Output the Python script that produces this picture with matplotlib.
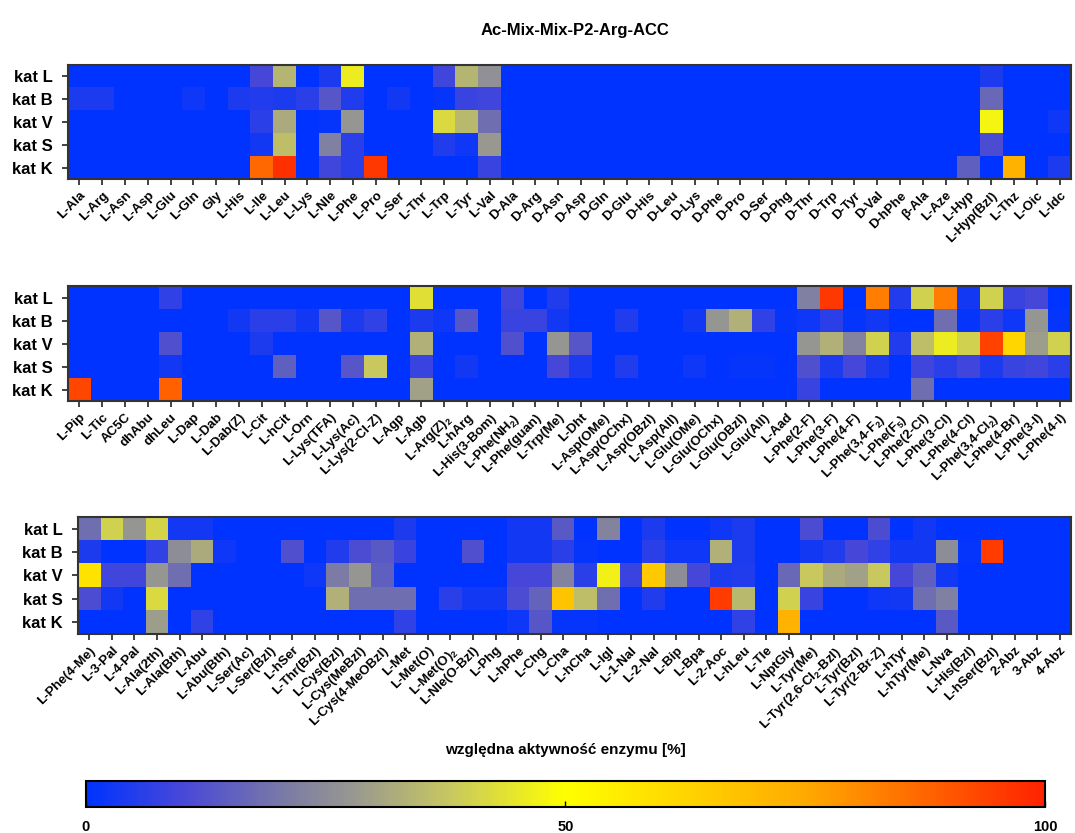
import matplotlib
matplotlib.use("Agg")
import matplotlib.pyplot as plt
from matplotlib.colors import LinearSegmentedColormap
import numpy as np

plt.rcParams['font.family'] = ['Liberation Sans', 'DejaVu Sans']
plt.rcParams['font.weight'] = 'bold'
plt.rcParams['mathtext.fontset'] = 'custom'
plt.rcParams['mathtext.rm'] = 'Liberation Sans:bold'
plt.rcParams['mathtext.it'] = 'Liberation Sans:bold'
plt.rcParams['mathtext.bf'] = 'Liberation Sans:bold'
plt.rcParams['mathtext.default'] = 'rm'

rows = ["kat L", "kat B", "kat V", "kat S", "kat K"]

# panel 1
labels1 = ["L-Ala", "L-Arg", "L-Asn", "L-Asp", "L-Glu", "L-Gln", "Gly", "L-His", "L-Ile", "L-Leu",
           "L-Lys", "L-Nle", "L-Phe", "L-Pro", "L-Ser", "L-Thr", "L-Trp", "L-Tyr", "L-Val", "D-Ala",
           "D-Arg", "D-Asn", "D-Asp", "D-Gln", "D-Glu", "D-His", "D-Leu", "D-Lys", "D-Phe", "D-Pro",
           "D-Ser", "D-Phg", "D-Thr", "D-Trp", "D-Tyr", "D-Val", "D-hPhe", "β-Ala", "L-Aze", "L-Hyp",
           "L-Hyp(Bzl)", "L-Thz", "L-Oic", "L-Idc"]
p1_katL = [0, 0, 0, 0, 0, 0, 0, 0, 10, 34, 0, 4, 46, 0, 0, 0, 9, 34, 26, 0,
           0, 0, 0, 0, 0, 0, 0, 0, 0, 0, 0, 0, 0, 0, 0, 0, 0, 0, 0, 0, 4, 0, 0, 0]
p1_katB = [4, 4, 0, 0, 0, 2, 0, 4, 5, 4, 6, 13, 5, 0, 3, 0, 1, 8, 9, 0,
           0, 0, 0, 0, 0, 0, 0, 0, 0, 0, 0, 0, 0, 0, 0, 0, 0, 0, 0, 0, 17, 0, 0, 0]
p1_katV = [0, 0, 0, 0, 0, 0, 0, 0, 6, 32, 0, 1, 27, 0, 0, 0, 42, 35, 18, 0,
           0, 0, 0, 0, 0, 0, 0, 0, 0, 0, 0, 0, 0, 0, 0, 0, 0, 0, 0, 0, 48, 0, 0, 2]
p1_katS = [0, 0, 0, 0, 0, 0, 0, 0, 3, 36, 0, 22, 6, 0, 0, 0, 5, 2, 28, 0,
           0, 0, 0, 0, 0, 0, 0, 0, 0, 0, 0, 0, 0, 0, 0, 0, 0, 0, 0, 0, 11, 0, 0, 0]
p1_katK = [0, 0, 0, 0, 0, 0, 0, 0, 87, 97, 0, 9, 6, 96, 0, 0, 0, 0, 8, 0,
           0, 0, 0, 0, 0, 0, 0, 0, 0, 0, 0, 0, 0, 0, 0, 0, 0, 0, 0, 15, 0, 72, 0, 4]

# panel 2
labels2 = ["L-Pip", "L-Tic", "AC5C", "dhAbu", "dhLeu", "L-Dap", "L-Dab", "L-Dab(Z)", "L-Cit", "L-hCit",
           "L-Orn", "L-Lys(TFA)", "L-Lys(Ac)", "L-Lys(2-Cl-Z)", "L-Agp", "L-Agb", "L-Arg(Z)$_2$", "L-hArg",
           "L-His(3-Bom)", "L-Phe(NH$_2$)", "L-Phe(guan)", "L-Trp(Me)", "L-Dht", "L-Asp(OMe)",
           "L-Asp(OChx)", "L-Asp(OBzl)", "L-Asp(All)", "L-Glu(OMe)", "L-Glu(OChx)", "L-Glu(OBzl)",
           "L-Glu(All)", "L-Aad", "L-Phe(2-F)", "L-Phe(3-F)", "L-Phe(4-F)", "L-Phe(3,4-F$_2$)",
           "L-Phe(F$_5$)", "L-Phe(2-Cl)", "L-Phe(3-Cl)", "L-Phe(4-Cl)", "L-Phe(3,4-Cl$_2$)",
           "L-Phe(4-Br)", "L-Phe(3-I)", "L-Phe(4-I)"]
p2_katL = [0, 0, 0, 0, 7, 0, 0, 0, 0, 0, 0, 0, 0, 0, 0, 43, 0, 0, 0, 9,
           0, 5, 0, 0, 0, 0, 0, 0, 0, 0, 0, 0, 22, 96, 0, 83, 5, 40, 83, 3, 40, 8, 10, 0]
p2_katB = [0, 0, 0, 0, 0, 0, 0, 3, 6, 6, 3, 13, 4, 7, 0, 4, 2, 13, 0, 8,
           8, 3, 0, 0, 5, 0, 0, 3, 27, 33, 7, 1, 2, 6, 1, 3, 0, 0, 18, 1, 6, 2, 27, 1]
p2_katV = [0, 0, 0, 0, 12, 0, 0, 0, 4, 0, 0, 0, 0, 0, 0, 33, 0, 0, 0, 12,
           0, 27, 13, 0, 0, 0, 0, 0, 0, 0, 0, 0, 27, 33, 23, 40, 5, 36, 46, 40, 94, 62, 29, 40]
p2_katS = [0, 0, 0, 0, 3, 0, 0, 0, 0, 15, 0, 0, 13, 38, 0, 8, 0, 3, 0, 0,
           0, 10, 4, 0, 5, 0, 0, 2, 0, 1, 1, 0, 12, 4, 10, 4, 0, 9, 6, 9, 4, 8, 9, 6]
p2_katK = [93, 0, 0, 0, 88, 0, 0, 0, 0, 0, 0, 0, 0, 0, 0, 30, 0, 0, 0, 0,
           0, 0, 0, 0, 0, 0, 0, 0, 0, 0, 0, 0, 8, 0, 0, 0, 0, 18, 0, 0, 0, 0, 0, 0]

# panel 3
labels3 = ["L-Phe(4-Me)", "L-3-Pal", "L-4-Pal", "L-Ala(2th)", "L-Ala(Bth)", "L-Abu", "L-Abu(Bth)",
           "L-Ser(Ac)", "L-Ser(Bzl)", "L-hSer", "L-Thr(Bzl)", "L-Cys(Bzl)", "L-Cys(MeBzl)",
           "L-Cys(4-MeOBzl)", "L-Met", "L-Met(O)", "L-Met(O)$_2$", "L-Nle(O-Bzl)", "L-Phg", "L-hPhe",
           "L-Chg", "L-Cha", "L-hCha", "L-Igl", "L-1-Nal", "L-2-Nal", "L-Bip", "L-Bpa", "L-2-Aoc",
           "L-hLeu", "L-Tle", "L-NptGly", "L-Tyr(Me)", "L-Tyr(2,6-Cl$_2$-Bzl)", "L-Tyr(Bzl)",
           "L-Tyr(2-Br-Z)", "L-hTyr", "L-hTyr(Me)", "L-Nva", "L-His(Bzl)", "L-hSer(Bzl)", "2-Abz",
           "3-Abz", "4-Abz"]
p3_katL = [18, 40, 27, 41, 3, 3, 0, 0, 0, 0, 0, 0, 0, 0, 4, 0, 0, 0, 0, 3,
           3, 14, 0, 23, 0, 4, 0, 0, 2, 4, 0, 0, 11, 0, 0, 11, 0, 3, 0, 0, 0, 0, 0, 0]
p3_katB = [4, 0, 0, 7, 25, 32, 2, 0, 0, 12, 0, 5, 11, 14, 8, 0, 0, 12, 0, 3,
           3, 6, 1, 0, 0, 6, 2, 2, 33, 4, 0, 0, 3, 5, 10, 7, 3, 3, 25, 1, 95, 0, 0, 0]
p3_katV = [58, 9, 9, 27, 18, 0, 0, 0, 0, 0, 2, 21, 27, 15, 0, 0, 0, 0, 0, 10,
           10, 23, 6, 47, 8, 66, 25, 10, 4, 5, 0, 17, 38, 32, 30, 38, 10, 15, 3, 0, 0, 0, 0, 0]
p3_katS = [11, 3, 0, 42, 0, 0, 0, 0, 0, 0, 0, 33, 18, 18, 18, 0, 6, 3, 3, 11,
           16, 67, 36, 18, 0, 5, 0, 0, 95, 35, 0, 40, 8, 0, 0, 2, 3, 18, 22, 0, 0, 0, 0, 0]
p3_katK = [0, 0, 0, 29, 0, 7, 0, 0, 0, 0, 0, 0, 0, 0, 7, 0, 0, 0, 0, 2,
           13, 1, 1, 0, 0, 0, 0, 0, 0, 7, 0, 72, 0, 0, 0, 0, 0, 0, 14, 0, 0, 0, 0, 0]

panels = [
    (labels1, [p1_katL, p1_katB, p1_katV, p1_katS, p1_katK]),
    (labels2, [p2_katL, p2_katB, p2_katV, p2_katS, p2_katK]),
    (labels3, [p3_katL, p3_katB, p3_katV, p3_katS, p3_katK]),
]

cmap = LinearSegmentedColormap.from_list("enz", [
    (0.0, "#0033ff"), (0.1, "#4848d8"), (0.2, "#7878a8"), (0.28, "#999990"),
    (0.38, "#c8c860"), (0.5, "#ffff00"), (0.75, "#ffaa00"), (1.0, "#ff2200")])

fig = plt.figure(figsize=(10.75, 8.33), dpi=100)

# [left, bottom, width, height]
positions = [
    [0.0633, 0.7851, 0.9330, 0.1369],
    [0.0633, 0.5186, 0.9330, 0.1380],
    [0.0726, 0.2389, 0.9237, 0.1405],
]

for (labels, data), pos in zip(panels, positions):
    ax = fig.add_axes(pos)
    im = ax.imshow(np.array(data), cmap=cmap, vmin=0, vmax=100, aspect='auto',
                   interpolation='nearest')
    ax.set_yticks(range(len(rows)))
    ax.set_yticklabels(rows, fontsize=12, fontweight='bold')
    ax.set_xticks(range(len(labels)))
    ax.set_xticklabels(labels, fontsize=9.5, fontweight='bold', rotation=45,
                       ha='right', rotation_mode='anchor')
    ax.tick_params(length=4, width=1.2, color='#222222')
    ax.tick_params(axis='y', pad=7)
    for s in ax.spines.values():
        s.set_linewidth(1.5)
        s.set_color('#333333')

fig.text(0.535, 1 - 30 / 833, "Ac-Mix-Mix-P2-Arg-ACC", ha='center', va='center',
         fontsize=12, fontweight='bold')
fig.text(0.526, 1 - 750 / 833, "względna aktywność enzymu [%]", ha='center', va='center',
         fontsize=11, fontweight='bold')

cax = fig.add_axes([0.080, 0.0312, 0.892, 0.0312])
cb = fig.colorbar(im, cax=cax, orientation='horizontal', ticks=[0, 50, 100])
cb.outline.set_linewidth(1.5)
cax.tick_params(direction='in', length=4, width=1, pad=9, labelsize=10.5)
for t in cax.get_xticklabels():
    t.set_fontweight('bold')

plt.savefig("out.png", dpi=100)
